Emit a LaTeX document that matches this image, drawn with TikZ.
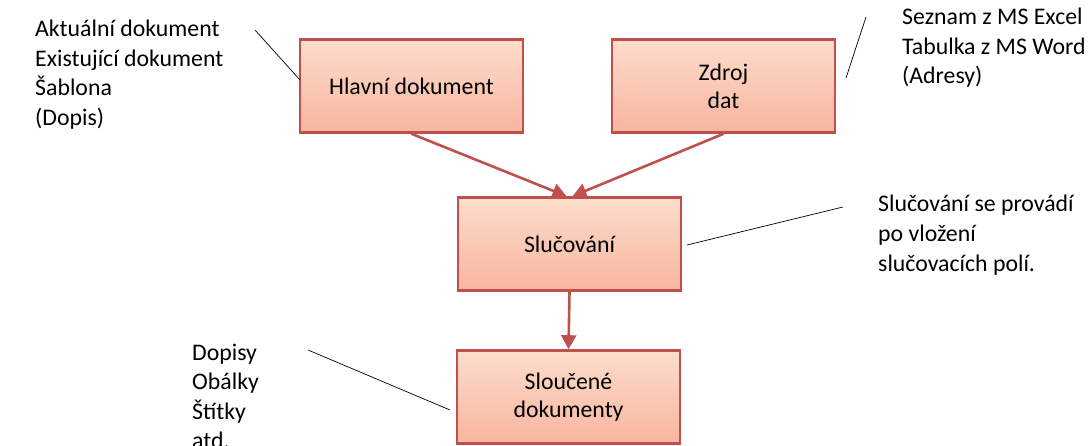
\documentclass[tikz,border=0pt]{standalone}
\usepackage{fontspec}
\setmainfont{Carlito}
\usetikzlibrary{arrows.meta}

\definecolor{boxred}{RGB}{192,80,77}
\definecolor{boxtop}{RGB}{252,221,204}
\definecolor{boxbot}{RGB}{248,181,158}

\begin{document}
\begin{tikzpicture}[x=1pt,y=-1pt,
        box/.style={draw=boxred,line width=2.6pt,top color=boxtop,bottom color=boxbot,
            minimum width=223pt,minimum height=93pt,inner sep=0pt,align=center,
            font=\fontsize{23.8}{28}\selectfont},
        arr/.style={draw=boxred,line width=2.6pt,-{Triangle[length=14pt,width=15pt]}},
        note/.style={anchor=base west,align=left,inner sep=0pt,
            font=\fontsize{23.8}{29.5}\selectfont}]
                \useasboundingbox (0,0) rectangle (1091,446);
                % the four boxes
                \node[box] (hlavni) at (411.5,86) {Hlavní dokument};
                \node[box] (zdroj) at (723.5,86) {Zdroj\\dat};
                \node[box] (sluc) at (569.5,244) {Slučování};
                \node[box] (slouc) at (568.5,397) {Sloučené\\dokumenty};
                % flow
                \draw[arr] (hlavni.south) -- ([xshift=-3pt]sluc.north);
                \draw[arr] (zdroj.south) -- ([xshift=3pt]sluc.north);
                \draw[arr] (sluc.south) -- (slouc.north);
                % side notes (placed by the baseline of their last line)
                \node[note] (n1) at (35,125.5) {Aktuální dokument\\Existující dokument\\Šablona\\(Dopis)};
                \node[note] (n2) at (902,84) {Seznam z MS Excel\\Tabulka z MS Word\\(Adresy)};
                \node[note] (n3) at (878,271) {Slučování se provádí\\po vložení\\slučovacích polí.};
                \node[note] (n4) at (192,448.5) {Dopisy\\Obálky\\Štítky\\atd.};
                \coordinate (c1) at (255,30);  \coordinate (d1) at (300,80);
                \coordinate (c2) at (866,17);  \coordinate (d2) at (846,78);
                \coordinate (c3) at (843,207); \coordinate (d3) at (687,245);
                \coordinate (c4) at (308,350); \coordinate (d4) at (450,410);
                \foreach \i in {1,...,4}
                    \draw[line width=0.7pt] (c\i) -- (d\i);
            \end{tikzpicture}
\end{document}
